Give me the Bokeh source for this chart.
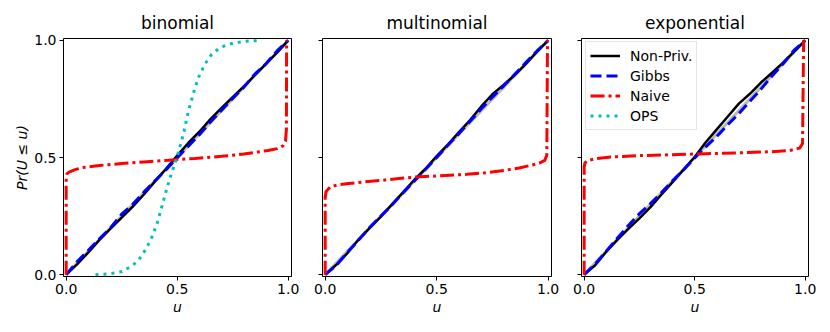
from bokeh.plotting import figure
from bokeh.layouts import row
from bokeh.models import Legend, LegendItem, FixedTicker, Range1d, NumeralTickFormatter
from bokeh.embed import file_html
from bokeh.resources import INLINE

# ---------------- data ----------------
titles = ["binomial", "multinomial", "exponential"]
tick_vals = [0.0, 0.5, 1.0]
diag_u = [0.0, 1.0]

u_grid = [0.0, 0.05, 0.1, 0.15, 0.2, 0.25, 0.3, 0.35, 0.4, 0.45, 0.5,
          0.55, 0.6, 0.65, 0.7, 0.75, 0.8, 0.85, 0.9, 0.95, 1.0]

bin_nonpriv = [0.0, 0.045, 0.095, 0.148, 0.196, 0.243, 0.29, 0.342, 0.398, 0.452, 0.508,
               0.562, 0.61, 0.664, 0.712, 0.758, 0.803, 0.852, 0.9, 0.948, 1.0]
bin_gibbs = [0.0, 0.056, 0.104, 0.153, 0.2, 0.258, 0.3, 0.352, 0.4, 0.448, 0.498,
             0.548, 0.597, 0.652, 0.702, 0.752, 0.8, 0.856, 0.9, 0.955, 1.0]
bin_naive_u = [0.0, 0.0, 0.003, 0.013, 0.04, 0.072, 0.15, 0.25, 0.35, 0.46, 0.58,
               0.70, 0.80, 0.91, 0.95, 0.977, 0.988, 0.992, 0.993]
bin_naive_p = [0.0, 0.41, 0.43, 0.438, 0.448, 0.457, 0.466, 0.474, 0.481, 0.488, 0.496,
               0.505, 0.515, 0.53, 0.538, 0.55, 0.57, 0.62, 1.0]
bin_ops_u = [0.132, 0.19, 0.252, 0.3, 0.327, 0.36, 0.386, 0.41, 0.431, 0.45, 0.469, 0.499,
             0.528, 0.551, 0.581, 0.60, 0.626, 0.655, 0.685, 0.72, 0.76, 0.82, 0.88]
bin_ops_p = [0.0, 0.003, 0.013, 0.04, 0.063, 0.11, 0.16, 0.22, 0.29, 0.355, 0.417, 0.5,
             0.6, 0.70, 0.80, 0.85, 0.90, 0.94, 0.963, 0.98, 0.99, 0.997, 1.0]

mult_nonpriv = [0.0, 0.042, 0.092, 0.15, 0.2, 0.248, 0.3, 0.352, 0.405, 0.452, 0.506,
                0.555, 0.608, 0.66, 0.718, 0.77, 0.81, 0.852, 0.9, 0.952, 1.0]
mult_gibbs = [0.0, 0.04, 0.095, 0.148, 0.202, 0.25, 0.298, 0.35, 0.4, 0.45, 0.5,
              0.552, 0.602, 0.655, 0.708, 0.758, 0.805, 0.855, 0.905, 0.955, 1.0]
mult_naive_u = [0.0, 0.0, 0.004, 0.023, 0.06, 0.106, 0.18, 0.258, 0.33, 0.409, 0.52,
                0.636, 0.72, 0.803, 0.87, 0.924, 0.96, 0.985, 0.994, 0.997]
mult_naive_p = [0.0, 0.33, 0.355, 0.375, 0.384, 0.389, 0.396, 0.403, 0.41, 0.417, 0.422,
                0.428, 0.435, 0.445, 0.455, 0.467, 0.476, 0.488, 0.51, 1.0]

exp_nonpriv = [0.0, 0.04, 0.098, 0.148, 0.195, 0.24, 0.288, 0.342, 0.395, 0.448, 0.502,
               0.565, 0.62, 0.675, 0.73, 0.772, 0.82, 0.862, 0.905, 0.952, 1.0]
exp_gibbs = [0.0, 0.045, 0.1, 0.155, 0.21, 0.26, 0.303, 0.35, 0.4, 0.448, 0.498,
             0.545, 0.59, 0.64, 0.688, 0.74, 0.792, 0.848, 0.9, 0.958, 1.0]
exp_naive_u = [0.0, 0.0, 0.004, 0.02, 0.06, 0.12, 0.25, 0.4, 0.55, 0.7, 0.85,
               0.93, 0.975, 0.988, 0.993]
exp_naive_p = [0.0, 0.46, 0.478, 0.488, 0.496, 0.502, 0.508, 0.512, 0.516, 0.52, 0.525,
               0.53, 0.54, 0.56, 1.0]
# OPS has no curve in the multinomial / exponential panels (legend entry only)
exp_ops_u = [float("nan")]
exp_ops_p = [float("nan")]
mult_ops_u = [float("nan")]
mult_ops_p = [float("nan")]

FONT = "DejaVu Sans"


def make_fig(title, frame_w, mbl, mbr, first):
    p = figure(frame_width=frame_w, frame_height=238,
               min_border_left=mbl, min_border_right=mbr,
               min_border_top=38, min_border_bottom=46,
               x_range=Range1d(-0.012, 1.015), y_range=Range1d(-0.008, 1.008),
               output_backend="svg", toolbar_location=None, title=title)
    p.title.align = "center"
    p.title.text_font = FONT
    p.title.text_font_size = "17px"
    p.title.text_font_style = "normal"
    p.title.text_color = "black"
    p.title.standoff = 12
    p.grid.visible = False
    p.outline_line_color = "black"
    p.outline_line_alpha = 1.0
    for ax in (p.xaxis[0], p.yaxis[0]):
        ax.ticker = FixedTicker(ticks=tick_vals)
        ax.formatter = NumeralTickFormatter(format="0.0")
        ax.axis_line_color = None
        ax.major_tick_in = 0
        ax.major_tick_out = 4
        ax.major_tick_line_color = "black"
        ax.minor_tick_line_color = None
        ax.major_label_text_font = FONT
        ax.major_label_text_font_size = "14px"
        ax.major_label_text_color = "black"
        ax.major_label_standoff = 3
        ax.axis_label_text_font = FONT
        ax.axis_label_text_font_size = "14px"
        ax.axis_label_text_font_style = "italic"
        ax.axis_label_text_color = "black"
    p.xaxis.axis_label = "u"
    p.xaxis.axis_label_standoff = 2
    if first:
        p.yaxis.axis_label = "Pr(U ≤ u)"
        p.yaxis.axis_label_standoff = 1
    else:
        p.yaxis.major_label_overrides = {t: "" for t in tick_vals}
    p.line(diag_u, diag_u, line_color="gray", line_width=3, line_alpha=0.55)
    return p


def add_curves(p, nonpriv, gibbs, nu, npv, ops_u, ops_p):
    r1 = p.line(u_grid, nonpriv, line_color="black", line_width=2.5)
    r2 = p.line(u_grid, gibbs, line_color="#0000ff", line_width=3, line_dash="11 5")
    r3 = p.line(nu, npv, line_color="#ff0000", line_width=3, line_dash="14 4 3 4")
    r4 = p.line(ops_u, ops_p, line_color="#00bfbf", line_width=3, line_dash="3 5")
    return r1, r2, r3, r4


p1 = make_fig(titles[0], 228, 63, 10, True)
add_curves(p1, bin_nonpriv, bin_gibbs, bin_naive_u, bin_naive_p, bin_ops_u, bin_ops_p)

p2 = make_fig(titles[1], 229, 21, 10, False)
add_curves(p2, mult_nonpriv, mult_gibbs, mult_naive_u, mult_naive_p, mult_ops_u, mult_ops_p)

p3 = make_fig(titles[2], 227, 20, 14, False)
rs = add_curves(p3, exp_nonpriv, exp_gibbs, exp_naive_u, exp_naive_p, exp_ops_u, exp_ops_p)

labels = ["Non-Priv.", "Gibbs", "Naive", "OPS"]
legend = Legend(items=[LegendItem(label=l, renderers=[r]) for l, r in zip(labels, rs)],
                location=(4, 146))
legend.margin = 0
legend.padding = 4
legend.spacing = 1
legend.glyph_width = 30
legend.glyph_height = 19
legend.label_height = 19
legend.label_standoff = 10
legend.label_text_font = FONT
legend.label_text_font_size = "14px"
legend.label_text_color = "black"
legend.border_line_color = "#cccccc"
legend.border_line_width = 1
legend.background_fill_alpha = 0.8
p3.add_layout(legend)

layout = row(p1, p2, p3, spacing=0)
open("out.html", "w").write(file_html(layout, INLINE))
